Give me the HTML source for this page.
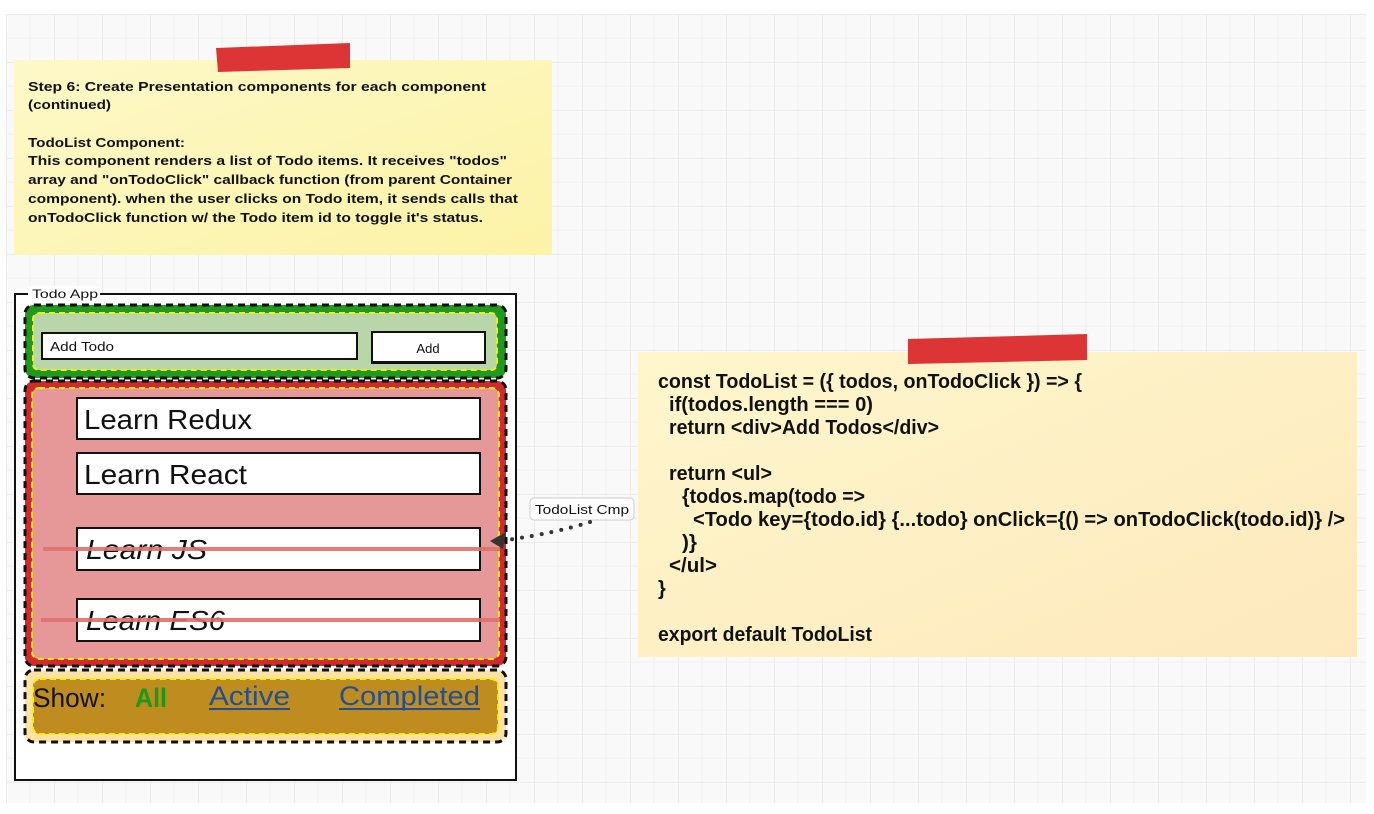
<!DOCTYPE html>
<html><head><meta charset="utf-8"><style>
html,body{margin:0;padding:0;background:#fff;}
svg{display:block}
</style></head><body>
<svg width="1374" height="814" xmlns="http://www.w3.org/2000/svg">
<defs>
<pattern id="g" x="6" y="14" width="48" height="48" patternUnits="userSpaceOnUse">
<rect width="48" height="48" fill="#f9f9f9"/>
<path d="M24 0V48M0 24H48" stroke="#f0f0f0" stroke-width="1"/>
<path d="M0 0V48M0 0H48" stroke="#ebebeb" stroke-width="2"/>
</pattern>
<linearGradient id="y1" x1="0" y1="0" x2="1" y2="1"><stop offset="0" stop-color="#fdf8c8"/><stop offset="1" stop-color="#fcf3a6"/></linearGradient>
<linearGradient id="y2" x1="0" y1="0" x2="1" y2="1"><stop offset="0" stop-color="#fff6cc"/><stop offset="1" stop-color="#fde9bd"/></linearGradient>
</defs>
<rect x="6" y="14" width="1360" height="789" fill="url(#g)"/>

<!-- note 1 -->
<rect x="14" y="60" width="538" height="195" fill="url(#y1)"/>
<polygon points="216,48 350,43 350,68 218,72" fill="#dd3535"/>
<g font-family="Liberation Sans, sans-serif" font-weight="bold" font-size="13" fill="#111">
<text x="28" y="91" textLength="458" lengthAdjust="spacingAndGlyphs">Step 6: Create Presentation components for each component</text>
<text x="28" y="109" textLength="83" lengthAdjust="spacingAndGlyphs">(continued)</text>
<text x="28" y="147" textLength="157" lengthAdjust="spacingAndGlyphs">TodoList Component:</text>
<text x="28" y="165" textLength="479" lengthAdjust="spacingAndGlyphs">This component renders a list of Todo items. It receives "todos"</text>
<text x="28" y="184" textLength="484" lengthAdjust="spacingAndGlyphs">array and "onTodoClick" callback function (from parent Container</text>
<text x="28" y="203" textLength="490" lengthAdjust="spacingAndGlyphs">component). when the user clicks on Todo item, it sends calls that</text>
<text x="28" y="222" textLength="455" lengthAdjust="spacingAndGlyphs">onTodoClick function w/ the Todo item id to toggle it's status.</text>
</g>

<!-- note 2 -->
<rect x="638" y="352" width="719" height="305" fill="url(#y2)"/>
<polygon points="908,339 1087,334 1087,360 908,364" fill="#dd3535"/>
<g font-family="Liberation Sans, sans-serif" font-weight="bold" font-size="20" fill="#111">
<text x="658" y="388" textLength="424" lengthAdjust="spacingAndGlyphs">const TodoList = ({ todos, onTodoClick }) =&gt; {</text>
<text x="669" y="411" textLength="204" lengthAdjust="spacingAndGlyphs">if(todos.length === 0)</text>
<text x="669" y="434" textLength="270" lengthAdjust="spacingAndGlyphs">return &lt;div&gt;Add Todos&lt;/div&gt;</text>
<text x="669" y="480" textLength="103" lengthAdjust="spacingAndGlyphs">return &lt;ul&gt;</text>
<text x="682" y="503" textLength="183" lengthAdjust="spacingAndGlyphs">{todos.map(todo =&gt;</text>
<text x="693" y="526" textLength="652" lengthAdjust="spacingAndGlyphs">&lt;Todo key={todo.id} {...todo}  onClick={() =&gt; onTodoClick(todo.id)}   /&gt;</text>
<text x="682" y="549" textLength="15" lengthAdjust="spacingAndGlyphs">)}</text>
<text x="669" y="572" textLength="48" lengthAdjust="spacingAndGlyphs">&lt;/ul&gt;</text>
<text x="658" y="595">}</text>
<text x="658" y="641" textLength="214" lengthAdjust="spacingAndGlyphs">export default TodoList</text>
</g>

<!-- Todo App frame -->
<rect x="15" y="294" width="501" height="486" fill="#fff" stroke="#111" stroke-width="2"/>
<rect x="28" y="286" width="72" height="14" fill="#fff"/>
<text x="32" y="298" font-family="Liberation Sans, sans-serif" font-size="12" fill="#111" textLength="66" lengthAdjust="spacingAndGlyphs">Todo App</text>

<!-- green -->
<rect x="25" y="305" width="481" height="73" rx="9" fill="#1f9a1f" stroke="#111" stroke-width="3" stroke-dasharray="7,5"/>
<rect x="33" y="313" width="464" height="57" rx="6" fill="#b8d6aa" stroke="#ffee00" stroke-width="2" stroke-dasharray="6,4"/>
<rect x="42" y="333" width="315" height="26" fill="#fff" stroke="#111" stroke-width="2"/>
<text x="50" y="351" font-family="Liberation Sans, sans-serif" font-size="13" fill="#111" textLength="64" lengthAdjust="spacingAndGlyphs">Add Todo</text>
<rect x="372" y="332" width="113" height="31" fill="#fff" stroke="#111" stroke-width="2"/>
<rect x="372" y="361" width="113" height="3" fill="#111"/>
<text x="428" y="353" text-anchor="middle" font-family="Liberation Sans, sans-serif" font-size="13" fill="#111">Add</text>

<!-- red -->
<rect x="25" y="381" width="481" height="285" rx="9" fill="#d02a2a" stroke="#111" stroke-width="3" stroke-dasharray="7,5"/>
<rect x="32" y="388" width="467" height="271" rx="7" fill="#e69898" stroke="#ffee00" stroke-width="2" stroke-dasharray="6,4"/>
<g font-family="Liberation Sans, sans-serif" font-size="28" fill="#111">
<rect x="77" y="398" width="403" height="41" fill="#fff" stroke="#111" stroke-width="2"/>
<text x="84" y="429" textLength="168" lengthAdjust="spacingAndGlyphs">Learn Redux</text>
<rect x="77" y="453" width="403" height="41" fill="#fff" stroke="#111" stroke-width="2"/>
<text x="84" y="484" textLength="163" lengthAdjust="spacingAndGlyphs">Learn React</text>
<rect x="77" y="528" width="403" height="42" fill="#fff" stroke="#111" stroke-width="2"/>
<text x="86" y="559" font-style="italic" textLength="121" lengthAdjust="spacingAndGlyphs">Learn JS</text>
<rect x="77" y="599" width="403" height="42" fill="#fff" stroke="#111" stroke-width="2"/>
<text x="86" y="630" font-style="italic" textLength="139" lengthAdjust="spacingAndGlyphs">Learn ES6</text>
</g>
<line x1="43" y1="549" x2="500" y2="549" stroke="#e07070" stroke-width="4" opacity="0.9"/>
<line x1="41" y1="620" x2="500" y2="620" stroke="#e07070" stroke-width="4" opacity="0.9"/>

<!-- show -->
<rect x="25" y="670" width="481" height="72" rx="9" fill="#fde2a2" stroke="#111" stroke-width="3" stroke-dasharray="7,5"/>
<rect x="33" y="679" width="465" height="55" rx="7" fill="#bf8c20" stroke="#ffee00" stroke-width="2" stroke-dasharray="6,4"/>
<g font-family="Liberation Sans, sans-serif" font-size="27">
<text x="33" y="707" fill="#111" textLength="73" lengthAdjust="spacingAndGlyphs">Show:</text>
<text x="135" y="707" fill="#1a9a1a" font-weight="bold" textLength="32" lengthAdjust="spacingAndGlyphs">All</text>
<text x="209" y="705" fill="#1f4f99" textLength="81" lengthAdjust="spacingAndGlyphs">Active</text>
<line x1="209" y1="709" x2="290" y2="709" stroke="#1f4f99" stroke-width="2"/>
<text x="339" y="705" fill="#1f4f99" textLength="141" lengthAdjust="spacingAndGlyphs">Completed</text>
<line x1="339" y1="709" x2="480" y2="709" stroke="#1f4f99" stroke-width="2"/>
</g>

<!-- label + connector -->
<rect x="530" y="498" width="104" height="22" rx="4" fill="#fff" stroke="#ccc"/>
<text x="582" y="514" text-anchor="middle" font-family="Liberation Sans, sans-serif" font-size="13" fill="#111" textLength="94" lengthAdjust="spacingAndGlyphs">TodoList Cmp</text>
<path d="M590 522 Q555 533 507 540" fill="none" stroke="#333" stroke-width="4" stroke-linecap="round" stroke-dasharray="0,10"/>
<polygon points="490,541 506,532 503,549" fill="#333"/>
</svg>
</body></html>
